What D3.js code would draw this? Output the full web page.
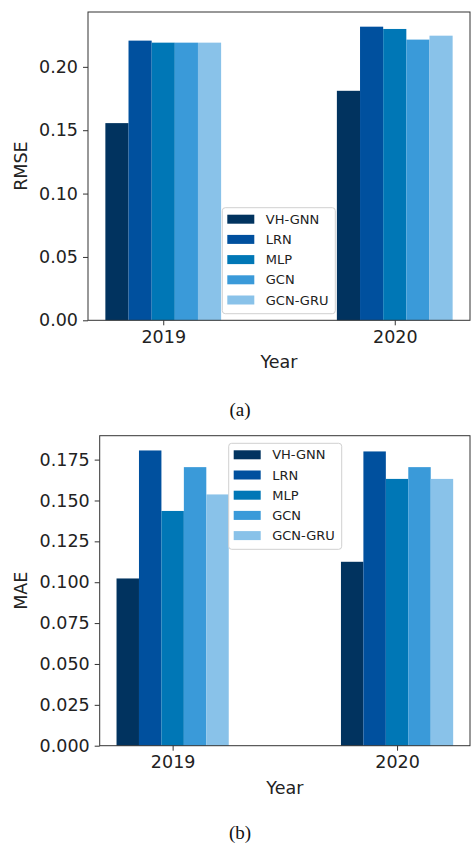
<!DOCTYPE html>
<html><head><meta charset="utf-8">
<script src="https://cdn.jsdelivr.net/npm/d3@7"></script>
<style>html,body{margin:0;padding:0;background:#fff;}svg{display:block;}</style>
</head><body>
<script>
const years = ["2019", "2020"];
const models = ["VH-GNN", "LRN", "MLP", "GCN", "GCN-GRU"];
const colors = ["#01335f", "#00509e", "#0077b6", "#3a9ad9", "#89c2e9"];
const rmseValues = {
  "VH-GNN": [0.1556, 0.1811],
  "LRN": [0.2207, 0.2317],
  "MLP": [0.2191, 0.2299],
  "GCN": [0.2191, 0.2215],
  "GCN-GRU": [0.2191, 0.2246]
};
const maeValues = {
  "VH-GNN": [0.1023, 0.1125],
  "LRN": [0.1806, 0.1800],
  "MLP": [0.1436, 0.1632],
  "GCN": [0.1704, 0.1704],
  "GCN-GRU": [0.1537, 0.1632]
};
const rmseTicks = [0, 0.05, 0.10, 0.15, 0.20];
const maeTicks = [0, 0.025, 0.05, 0.075, 0.10, 0.125, 0.15, 0.175];

const W = 471, H = 844;
const svg = d3.select("body").append("svg").attr("width", W).attr("height", H);
const font = "DejaVu Sans, sans-serif";

function panel(o) {
  const g = svg.append("g");
  const x = d3.scaleLinear().domain([-0.325, 1.325]).range([o.left, o.right]);
  const maxV = d3.max(models, m => d3.max(o.values[m]));
  const y = d3.scaleLinear().domain([0, maxV * 1.05]).range([o.bottom, o.top]);
  const bw = 0.1;
  models.forEach((m, i) => {
    g.selectAll(null).data(o.values[m]).enter().append("rect")
      .attr("x", (d, j) => x(j - 0.25 + i * bw))
      .attr("width", x(bw) - x(0))
      .attr("y", d => y(d))
      .attr("height", d => y(0) - y(d))
      .attr("fill", colors[i]);
  });
  // frame
  g.append("rect").attr("x", o.left).attr("y", o.top)
    .attr("width", o.right - o.left).attr("height", o.bottom - o.top)
    .attr("fill", "none").attr("stroke", "#333").attr("stroke-width", 1);
  // y axis
  const ya = d3.axisLeft(y).tickValues(o.ticks).tickFormat(d3.format(o.fmt)).tickSize(5).tickPadding(5);
  const yg = g.append("g").attr("transform", `translate(${o.left},0)`).call(ya);
  yg.select(".domain").remove();
  yg.selectAll("text").attr("font-family", font).attr("font-size", 17.5).attr("fill", "#222");
  yg.selectAll("line").attr("stroke", "#333");
  // x axis
  const xa = d3.axisBottom(x).tickValues([0, 1]).tickFormat((d, i) => years[i]).tickSize(5).tickPadding(5);
  const xg = g.append("g").attr("transform", `translate(0,${o.bottom})`).call(xa);
  xg.select(".domain").remove();
  xg.selectAll("text").attr("font-family", font).attr("font-size", 17.5).attr("fill", "#222");
  xg.selectAll("line").attr("stroke", "#333");
  // labels
  g.append("text").attr("x", (o.left + o.right) / 2).attr("y", o.bottom + 48)
    .attr("text-anchor", "middle").attr("font-family", font).attr("font-size", 17.5).attr("fill", "#222").text("Year");
  g.append("text").attr("transform", `translate(${o.ylabX},${(o.top + o.bottom) / 2}) rotate(-90)`)
    .attr("text-anchor", "middle").attr("font-family", font).attr("font-size", 17.5).attr("fill", "#222").text(o.ylab);
  // legend
  const lg = g.append("g").attr("transform", `translate(${o.legX},${o.legY})`);
  lg.append("rect").attr("x", 0).attr("y", 0).attr("width", 113).attr("height", 106)
    .attr("rx", 3).attr("fill", "#fff").attr("fill-opacity", 0.85).attr("stroke", "#d0d0d0");
  models.forEach((m, i) => {
    lg.append("rect").attr("x", 5).attr("y", 11.5 + i * 20.2 - 4.5).attr("width", 27).attr("height", 9).attr("fill", colors[i]);
    lg.append("text").attr("x", 43.5).attr("y", 11.5 + i * 20.2).attr("dy", "0.35em")
      .attr("font-family", font).attr("font-size", 13).attr("fill", "#222").text(m);
  });
  // caption
  svg.append("text").attr("x", 240).attr("y", o.capY).attr("text-anchor", "middle").attr("dy", "0.35em")
    .attr("font-family", "Liberation Serif, Times New Roman, serif").attr("font-size", 19).attr("fill", "#111").text(o.cap);
}

panel({left: 88, right: 470, top: 12, bottom: 320.3, values: rmseValues, ticks: rmseTicks, fmt: ".2f",
  ylab: "RMSE", ylabX: 27, legX: 222.3, legY: 207.7, capY: 409, cap: "(a)"});
panel({left: 99.7, right: 470, top: 435.7, bottom: 745.7, values: maeValues, ticks: maeTicks, fmt: ".3f",
  ylab: "MAE", ylabX: 27, legX: 228.7, legY: 443.3, capY: 832, cap: "(b)"});
</script>
</body></html>
